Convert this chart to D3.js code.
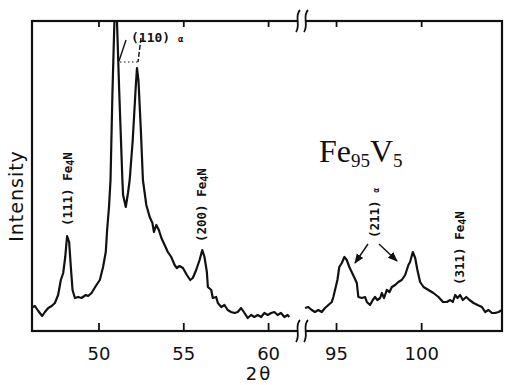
<!DOCTYPE html>
<html lang="en">
<head>
  <meta charset="UTF-8">
  <title>Fe95V5 XRD</title>
  <script src="https://d3js.org/d3.v7.min.js"></script>
  <style>
    body { margin: 0; background: #fff; }
    svg { display: block; }
    .peak { font-family: "DejaVu Sans Mono", monospace; font-size: 12.5px; font-weight: bold; fill: #111; }
  </style>
</head>
<body>
<script>
// 2theta / intensity (arbitrary units), low-angle part
const thetaLow = [46.02,46.25,46.45,46.68,46.84,47.04,47.24,47.43,47.62,47.78,47.92,48.04,48.15,48.27,48.37,48.47,48.61,48.80,49.00,49.25,49.39,49.59,49.88,50.08,50.27,50.43,50.51,50.62,50.71,50.82,50.94,50.99,51.05,51.09,51.22,51.41,51.45,51.61,51.74,51.84,52.02,52.20,52.27,52.36,52.50,52.62,52.82,53.02,53.18,53.27,53.41,53.56,53.71,53.90,54.09,54.29,54.49,54.62,54.78,54.98,55.21,55.41,55.56,55.76,55.96,56.12,56.25,56.39,56.45,56.65,56.74,56.94,57.04,57.24,57.43,57.62,57.82,58.02,58.21,58.41,58.61,58.80,59.00,59.19,59.39,59.59,59.78,59.98,60.18,60.37,60.56,60.76,60.96,61.15,61.25];
const intensityLow = [23,25,20,15,19,23,25,28,36,51,58,74,95,89,64,41,33,34,33,36,35,38,46,51,64,79,101,124,151,236,310,340,340,310,241,151,136,124,138,151,191,245,263,250,200,151,126,114,108,99,106,101,93,86,79,74,66,63,65,63,56,51,53,61,71,81,74,59,44,41,33,34,28,24,26,21,19,18,19,23,18,13,16,14,16,14,18,16,18,19,16,18,14,16,14];

// high-angle part
const thetaHigh = [93.18,93.37,93.57,93.76,93.96,94.16,94.35,94.55,94.75,94.84,94.94,95.08,95.19,95.34,95.49,95.63,95.78,95.92,96.06,96.22,96.31,96.51,96.71,96.81,97.00,97.16,97.29,97.43,97.59,97.69,97.82,97.98,98.14,98.28,98.47,98.66,98.86,99.06,99.25,99.35,99.51,99.65,99.78,99.94,100.14,100.43,100.72,101.02,101.28,101.51,101.71,101.86,102.00,102.14,102.29,102.45,102.65,102.84,103.08,103.31,103.57,103.76,103.96,104.16,104.35,104.55,104.75];
const intensityHigh = [23,24,21,19,21,19,23,26,29,34,41,51,64,68,74,71,64,59,54,48,34,33,34,29,26,31,34,31,33,38,33,41,39,44,46,49,51,56,66,69,79,73,61,49,44,41,38,34,29,29,31,29,36,33,36,31,34,31,28,26,24,19,21,18,18,19,21];

const ticksLow = [50, 55, 60];
const ticksHigh = [95, 100];

const W = 507, H = 385;
const x0 = 32, x1 = 502, y0 = 21, y1 = 331, brk = 302;

const xLow = d3.scaleLinear().domain([46.08, 62]).range([x0, brk]);
const xHigh = d3.scaleLinear().domain([93, 104.75]).range([brk, x1]);
const y = d3.scaleLinear().domain([0, 310]).range([y1, y0]);

const svg = d3.select("body").append("svg")
  .attr("width", W)
  .attr("height", H);

const defs = svg.append("defs");
defs.append("clipPath").attr("id", "plot")
  .append("rect").attr("x", x0).attr("y", y0)
  .attr("width", x1 - x0).attr("height", y1 - y0);

// frame
svg.append("rect")
  .attr("x", x0).attr("y", y0)
  .attr("width", x1 - x0).attr("height", y1 - y0)
  .attr("fill", "none").attr("stroke", "#111").attr("stroke-width", 2.2);

// axes
function styleAxis(g) {
  g.select(".domain").remove();
  g.selectAll(".tick line").attr("stroke", "#111").attr("stroke-width", 1.8);
  g.selectAll(".tick text")
    .attr("fill", "#111")
    .style("font-family", "'DejaVu Sans', sans-serif")
    .style("font-size", "18px");
}
svg.append("g").attr("transform", `translate(0,${y1})`)
  .call(d3.axisBottom(xLow).tickValues(ticksLow).tickSize(-8).tickPadding(16))
  .call(styleAxis);
svg.append("g").attr("transform", `translate(0,${y1})`)
  .call(d3.axisBottom(xHigh).tickValues(ticksHigh).tickSize(-8).tickPadding(16))
  .call(styleAxis);
svg.append("g").attr("transform", `translate(0,${y0})`)
  .call(d3.axisTop(xLow).tickValues(ticksLow).tickSize(-6).tickFormat(""))
  .call(styleAxis);
svg.append("g").attr("transform", `translate(0,${y0})`)
  .call(d3.axisTop(xHigh).tickValues(ticksHigh).tickFormat("").tickSize(-6))
  .call(styleAxis);

// axis break marks
[y0, y1].forEach(yy => {
  svg.append("rect").attr("x", brk - 4).attr("y", yy - 2)
    .attr("width", 8).attr("height", 4).attr("fill", "#fff");
  [-4, 4].forEach(dx => {
    const cx = brk + dx;
    svg.append("path")
      .attr("d", `M${cx + 2},${yy - 11} C${cx - 4},${yy - 5} ${cx + 3},${yy + 4} ${cx - 2},${yy + 11}`)
      .attr("fill", "none").attr("stroke", "#111").attr("stroke-width", 1.8);
  });
});

// pattern
const lowData = thetaLow.map((t, i) => [t, intensityLow[i]]);
const highData = thetaHigh.map((t, i) => [t, intensityHigh[i]]);

svg.append("path").datum(lowData)
  .attr("clip-path", "url(#plot)")
  .attr("fill", "none").attr("stroke", "#111").attr("stroke-width", 2.2)
  .attr("stroke-linejoin", "round")
  .attr("d", d3.line().x(d => xLow(d[0])).y(d => y(d[1])));
svg.append("path").datum(highData)
  .attr("fill", "none").attr("stroke", "#111").attr("stroke-width", 2.2)
  .attr("stroke-linejoin", "round")
  .attr("d", d3.line().x(d => xHigh(d[0])).y(d => y(d[1])));

// axis titles
svg.append("text")
  .attr("transform", `translate(23,196) rotate(-90)`)
  .attr("text-anchor", "middle")
  .style("font-family", "'DejaVu Sans', sans-serif")
  .style("font-size", "19px")
  .style("letter-spacing", "1px")
  .attr("fill", "#111")
  .text("Intensity");

svg.append("text")
  .attr("x", 259).attr("y", 380)
  .attr("text-anchor", "middle")
  .style("font-family", "'DejaVu Sans', sans-serif")
  .style("font-size", "18px")
  .style("letter-spacing", "2px")
  .attr("fill", "#111")
  .text("2θ");

// sample name
const name = svg.append("text")
  .attr("x", 319).attr("y", 162)
  .style("font-family", "'Liberation Serif', serif")
  .style("font-size", "32px")
  .attr("fill", "#111");
name.append("tspan").text("Fe");
name.append("tspan").attr("dy", 5).style("font-size", "19px").text("95");
name.append("tspan").attr("dy", -5).text("V");
name.append("tspan").attr("dy", 5).style("font-size", "19px").text("5");

// vertical peak labels
function fe4nLabel(x, yb, hkl) {
  const t = svg.append("text").attr("class", "peak")
    .attr("transform", `translate(${x},${yb}) rotate(-90)`);
  t.append("tspan").text(hkl + " Fe");
  t.append("tspan").attr("dy", 2).style("font-size", "10px").text("4");
  t.append("tspan").attr("dy", -2).text("N");
}
fe4nLabel(xLow(48.43), y(105), "(111)");
fe4nLabel(xLow(56.33), y(89), "(200)");
fe4nLabel(xHigh(102.5), y(46), "(311)");

const t211 = svg.append("text").attr("class", "peak")
  .attr("transform", `translate(${xHigh(97.55)},${y(93)}) rotate(-90)`);
t211.append("tspan").text("(211) ");
t211.append("tspan").style("font-size", "8px").text("α");

// (110) alpha label with leader lines
const t110 = svg.append("text").attr("class", "peak")
  .attr("x", 131).attr("y", 42).style("font-size", "13px");
t110.append("tspan").text("(110) ");
t110.append("tspan").style("font-size", "9px").text("α");

svg.append("line").attr("x1", 126).attr("y1", 40).attr("x2", 119).attr("y2", 61)
  .attr("stroke", "#111").attr("stroke-width", 1.4);
svg.append("line").attr("x1", 141).attr("y1", 38).attr("x2", 138).attr("y2", 62)
  .attr("stroke", "#111").attr("stroke-width", 1.4).attr("stroke-dasharray", "5,2");
svg.append("line").attr("x1", 120).attr("y1", 62).attr("x2", 138).attr("y2", 62)
  .attr("stroke", "#111").attr("stroke-width", 1).attr("stroke-dasharray", "1.5,2.5");

// (211) arrows
defs.append("marker").attr("id", "arr")
  .attr("viewBox", "0 0 10 10").attr("refX", 9).attr("refY", 5)
  .attr("markerWidth", 7).attr("markerHeight", 7).attr("orient", "auto")
  .append("path").attr("d", "M0,1 L10,5 L0,9 Z").attr("fill", "#111");
[[368, 244, 355, 263], [379, 244, 397, 261]].forEach(a => {
  svg.append("line")
    .attr("x1", a[0]).attr("y1", a[1]).attr("x2", a[2]).attr("y2", a[3])
    .attr("stroke", "#111").attr("stroke-width", 1.4)
    .attr("marker-end", "url(#arr)");
});
</script>
</body>
</html>
